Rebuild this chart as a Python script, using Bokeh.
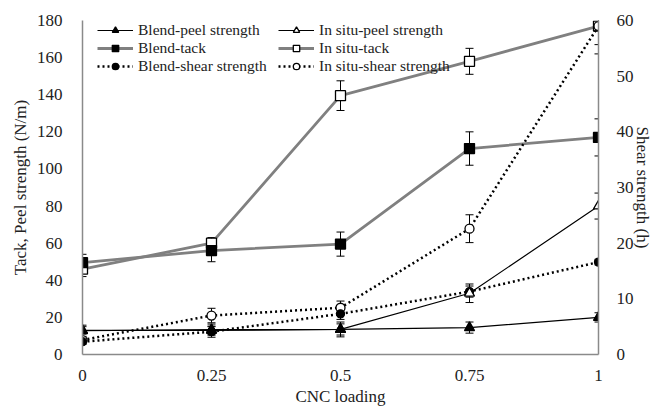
from bokeh.plotting import figure
from bokeh.models import (ColumnDataSource, Range1d, LinearAxis, Whisker, TeeHead,
                          Legend, LegendItem, FixedTicker, SingleIntervalTicker)
from bokeh.embed import file_html
from bokeh.resources import INLINE

# ---- data ----
cnc = [0, 0.25, 0.5, 0.75, 1]
x_tick_labels = ["0", "0.25", "0.5", "0.75", "1"]

blend_peel = [12.8, 13.4, 13.5, 14.5, 20]
blend_peel_err = [3, 3, 4, 3, 2.5]
insitu_peel = [13, 13, 13.5, 33, 80]
insitu_peel_err = [2, 2, 3, 5, 7]

blend_tack = [49.5, 56, 59.5, 111, 117]
blend_tack_err = [4.5, 6, 6.5, 9, 10]
insitu_tack = [46, 60, 139.5, 158, 177]
insitu_tack_err = [4, 3, 8, 7, 10]

blend_shear = [2.3, 4.1, 7.3, 11.3, 16.6]
blend_shear_err = [0.5, 1, 1, 1, 0.5]
insitu_shear = [2.6, 7, 8.4, 22.6, 59]
insitu_shear_err = [0.5, 1.3, 1.2, 2.5, 5]

FONT = "Liberation Serif"
AXIS_COL = "#8a8a8a"
TXT = "#222222"

p = figure(width=654, height=408, output_backend="svg", toolbar_location=None,
           x_range=Range1d(0, 1), y_range=Range1d(0, 180),
           min_border_left=82, min_border_right=54, min_border_top=20, min_border_bottom=53)
p.extra_y_ranges = {"shear": Range1d(0, 60)}
p.outline_line_color = None
p.xgrid.visible = False
p.ygrid.visible = False
p.background_fill_color = "white"

def style_axis(ax):
    ax.axis_line_color = AXIS_COL
    ax.axis_line_width = 1.5
    ax.major_tick_line_color = None
    ax.minor_tick_line_color = None
    ax.major_label_text_font = FONT
    ax.major_label_text_font_size = "17px"
    ax.major_label_text_color = TXT
    ax.axis_label_text_font = FONT
    ax.axis_label_text_font_size = "17px"
    ax.axis_label_text_font_style = "normal"
    ax.axis_label_text_color = TXT

xa = p.xaxis[0]
style_axis(xa)
xa.ticker = FixedTicker(ticks=cnc)
xa.major_label_overrides = {v: s for v, s in zip(cnc, x_tick_labels)}
xa.major_label_standoff = 9
xa.axis_label = "CNC loading"
xa.axis_label_standoff = 3

ya = p.yaxis[0]
style_axis(ya)
ya.ticker = SingleIntervalTicker(interval=20)
ya.major_label_standoff = 14
ya.axis_label = "Tack, Peel strength (N/m)"
ya.axis_label_standoff = 4

ra = LinearAxis(y_range_name="shear", axis_label="Shear strength (h)")
style_axis(ra)
ra.ticker = SingleIntervalTicker(interval=10)
ra.major_label_standoff = 12
ra.axis_label_standoff = -4
p.add_layout(ra, "right")

def add_series(y, err, line_color, line_width, dash, marker, fill, size, rng=None):
    kw = {} if rng is None else {"y_range_name": rng}
    src = ColumnDataSource(dict(x=cnc, y=y,
                                lo=[a - b for a, b in zip(y, err)],
                                hi=[a + b for a, b in zip(y, err)]))
    ln = p.line("x", "y", source=src, line_color=line_color, line_width=line_width,
                line_dash=dash, **kw)
    w = Whisker(base="x", lower="lo", upper="hi", source=src, line_color="black",
                line_width=1,
                upper_head=TeeHead(size=8, line_color="black", line_width=1),
                lower_head=TeeHead(size=8, line_color="black", line_width=1), **kw)
    p.add_layout(w)
    mk = p.scatter("x", "y", source=src, marker=marker, size=size, fill_color=fill,
                   line_color="black", line_width=1.3, **kw)
    return [ln, mk]

tack_col = "#808080"
r_it = add_series(insitu_tack, insitu_tack_err, tack_col, 2.8, "solid", "square", "white", 10)
r_bt = add_series(blend_tack, blend_tack_err, tack_col, 2.8, "solid", "square", "black", 10)
r_is = add_series(insitu_shear, insitu_shear_err, "black", 2.5, "2 3", "circle", "white", 9, "shear")
r_bs = add_series(blend_shear, blend_shear_err, "black", 2.5, "2 3", "circle", "black", 8, "shear")
r_ip = add_series(insitu_peel, insitu_peel_err, "black", 1.2, "solid", "triangle", "white", 10)
r_bp = add_series(blend_peel, blend_peel_err, "black", 1.2, "solid", "triangle", "black", 10)

def make_legend(items, x):
    lg = Legend(items=items, location=(x, 279), orientation="vertical",
                label_text_font=FONT, label_text_font_size="15.5px", label_text_color=TXT,
                glyph_width=36, glyph_height=16, label_height=16, label_standoff=5,
                spacing=0, padding=0, margin=0, border_line_color=None,
                background_fill_alpha=0)
    p.add_layout(lg)

make_legend([LegendItem(label="Blend-peel strength", renderers=r_bp),
             LegendItem(label="Blend-tack", renderers=r_bt),
             LegendItem(label="Blend-shear strength", renderers=r_bs)], 15)
make_legend([LegendItem(label="In situ-peel strength", renderers=r_ip),
             LegendItem(label="In situ-tack", renderers=r_it),
             LegendItem(label="In situ-shear strength", renderers=r_is)], 196)

open("out.html", "w").write(file_html(p, INLINE))
